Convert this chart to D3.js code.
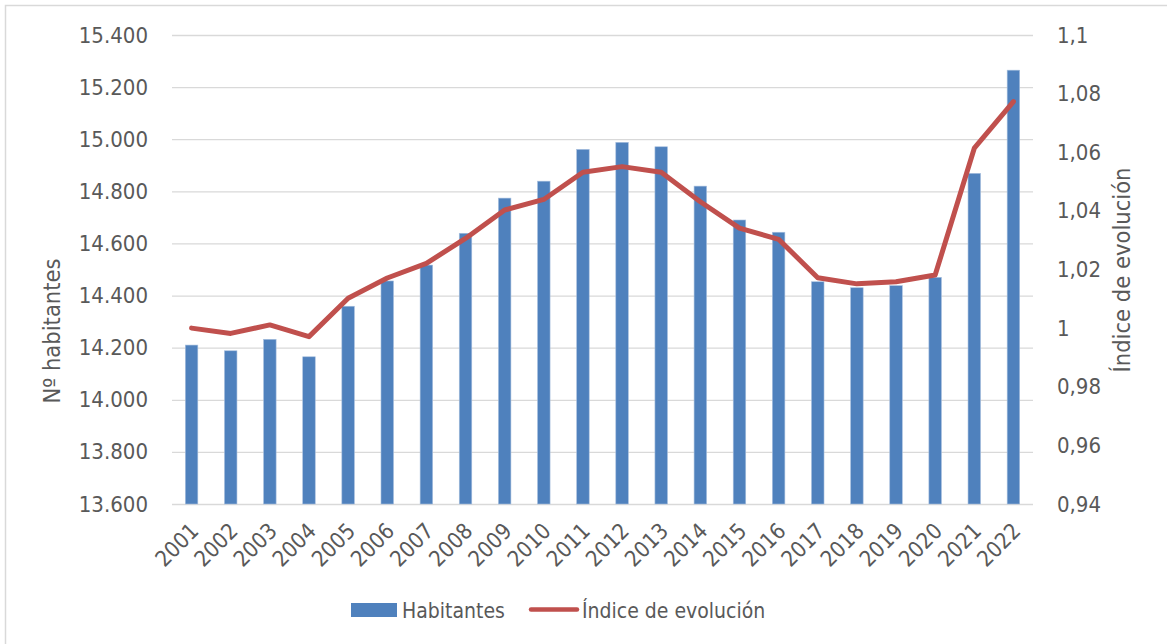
<!DOCTYPE html>
<html>
<head>
<meta charset="utf-8">
<script src="https://cdn.jsdelivr.net/npm/d3@7"></script>
<style>
  html, body { margin: 0; padding: 0; background: #fff; }
  svg { display: block; }
  text { font-family: "DejaVu Sans Condensed", "DejaVu Sans", sans-serif; font-stretch: condensed; fill: #595959; }
</style>
</head>
<body>
<svg id="chart" width="1167" height="644"></svg>
<script>
// Population per year and evolution index
const years = ["2001","2002","2003","2004","2005","2006","2007","2008","2009","2010","2011",
               "2012","2013","2014","2015","2016","2017","2018","2019","2020","2021","2022"];
const habitantes = [14210, 14188, 14232, 14165, 14359, 14456, 14517, 14639, 14774, 14839, 14961,
                    14988, 14971, 14820, 14690, 14643, 14453, 14430, 14438, 14470, 14869, 15265];
const indice = [1.0000, 0.9982, 1.0011, 0.9971, 1.0102, 1.0171, 1.0221, 1.0306, 1.0403, 1.0439, 1.0532,
                1.0551, 1.0532, 1.0431, 1.0341, 1.0303, 1.0172, 1.0151, 1.0158, 1.0181, 1.0614, 1.0773];
const leftTicks = [13600, 13800, 14000, 14200, 14400, 14600, 14800, 15000, 15200, 15400];
const rightTicks = [0.94, 0.96, 0.98, 1.00, 1.02, 1.04, 1.06, 1.08, 1.10];
const seriesNames = ["Habitantes", "Índice de evolución"];

const barColor = "#4f81bd";
const lineColor = "#c0504d";
const gridColor = "#d9d9d9";
const fontStack = "'DejaVu Sans Condensed', 'DejaVu Sans', sans-serif";

const svg = d3.select("#chart");

// Outer frame
svg.append("rect")
  .attr("x", 5.5).attr("y", 5.5)
  .attr("width", 1200).attr("height", 700)
  .attr("fill", "none").attr("stroke", "#d9d9d9").attr("stroke-width", 1.5);

const plot = { left: 172, right: 1033, top: 35, bottom: 504 };

const x = d3.scaleBand().domain(years).range([plot.left, plot.right]).paddingInner(0.68).paddingOuter(0.34);
const yL = d3.scaleLinear().domain([13600, 15400]).range([plot.bottom, plot.top]);
const yR = d3.scaleLinear().domain([0.94, 1.10]).range([plot.bottom, plot.top]);

const fmtL = d => d3.format(",")(d).replace(/,/g, ".");
const fmtR = d => {
  let s = d3.format(".2f")(d).replace(/0+$/, "").replace(/\.$/, "");
  return s.replace(".", ",");
};

// Horizontal gridlines
svg.append("g")
  .attr("transform", `translate(${plot.left},0)`)
  .call(d3.axisLeft(yL).tickValues(leftTicks).tickSize(-(plot.right - plot.left)).tickFormat(""))
  .call(g => g.select(".domain").remove())
  .call(g => g.selectAll("line").attr("stroke", gridColor).attr("stroke-width", 1.3));

// Left axis labels
svg.append("g")
  .attr("transform", `translate(${plot.left},0)`)
  .call(d3.axisLeft(yL).tickValues(leftTicks).tickSize(0).tickPadding(24).tickFormat(fmtL))
  .call(g => g.select(".domain").remove())
  .call(g => g.selectAll("text").attr("font-size", 22).attr("fill", "#595959")
    .style("font-family", fontStack));

// Right axis labels
svg.append("g")
  .attr("transform", `translate(${plot.right},0)`)
  .call(d3.axisRight(yR).tickValues(rightTicks).tickSize(0).tickPadding(24).tickFormat(fmtR))
  .call(g => g.select(".domain").remove())
  .call(g => g.selectAll("text").attr("font-size", 22).attr("fill", "#595959")
    .style("font-family", fontStack));

// Bottom axis labels (rotated)
svg.append("g")
  .attr("transform", `translate(0,${plot.bottom})`)
  .call(d3.axisBottom(x).tickSize(0).tickFormat(d => d))
  .call(g => g.select(".domain").remove())
  .call(g => g.selectAll("text")
    .attr("font-size", 22)
    .attr("fill", "#595959")
    .style("font-family", fontStack)
    .attr("text-anchor", "end")
    .attr("dy", "0.35em")
    .attr("transform", "translate(3,23) rotate(-45)")
    .attr("y", 0).attr("x", 0));

// Bars
svg.append("g")
  .selectAll("rect")
  .data(years)
  .join("rect")
  .attr("x", d => x(d))
  .attr("width", x.bandwidth())
  .attr("y", (d, i) => yL(habitantes[i]))
  .attr("height", (d, i) => yL(13600) - yL(habitantes[i]))
  .attr("fill", barColor)
  .attr("stroke", "#a7bfde").attr("stroke-width", 0.6);

// Index line
const line = d3.line()
  .x((d, i) => x(years[i]) + x.bandwidth() / 2)
  .y(d => yR(d));

svg.append("path")
  .datum(indice)
  .attr("d", line)
  .attr("fill", "none")
  .attr("stroke", lineColor)
  .attr("stroke-width", 5)
  .attr("stroke-linejoin", "round")
  .attr("stroke-linecap", "round");

// Axis titles
svg.append("text")
  .attr("transform", "translate(60,331) rotate(-90)")
  .attr("text-anchor", "middle")
  .attr("font-size", 23.5)
  .text("Nº habitantes");

svg.append("text")
  .attr("transform", "translate(1130,270) rotate(-90)")
  .attr("text-anchor", "middle")
  .attr("font-size", 23.5)
  .text("Índice de evolución");

// Legend
const legend = svg.append("g");
legend.append("rect")
  .attr("x", 351).attr("y", 603).attr("width", 46).attr("height", 14)
  .attr("fill", barColor);
legend.append("text")
  .attr("x", 402).attr("y", 618)
  .attr("font-size", 21)
  .text(seriesNames[0]);
legend.append("line")
  .attr("x1", 531).attr("x2", 577).attr("y1", 609.5).attr("y2", 609.5)
  .attr("stroke", lineColor).attr("stroke-width", 4.5).attr("stroke-linecap", "round");
legend.append("text")
  .attr("x", 582).attr("y", 618)
  .attr("font-size", 21)
  .text(seriesNames[1]);
</script>
</body>
</html>
